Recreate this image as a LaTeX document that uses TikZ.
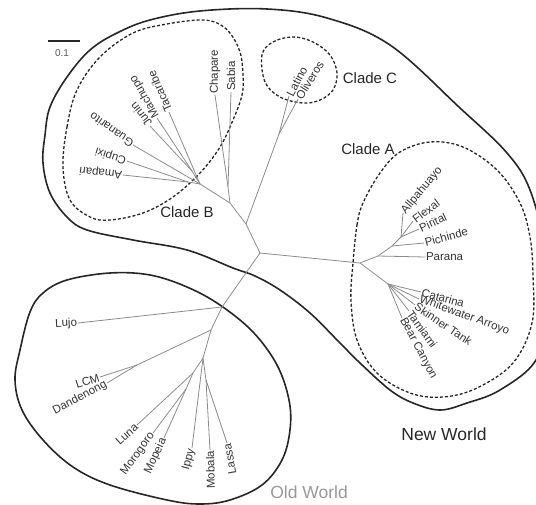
\documentclass[tikz,border=0pt]{standalone}
\usepackage{fontspec}
\setmainfont{Liberation Sans}

\begin{document}
\begin{tikzpicture}[x=1pt,y=-1pt,
	branch/.style={draw=black!45,line width=0.8pt},
	outline/.style={draw=black!85,line width=1.6pt},
	cladeline/.style={draw=black!85,line width=1.3pt,dash pattern=on 3pt off 2pt},
	leaf/.style={text=black!80,font=\fontsize{11.5}{12}\selectfont,inner sep=0.8pt},
	clade/.style={text=black!85,font=\fontsize{15}{18}\selectfont,inner sep=0pt},
	world/.style={font=\fontsize{17.5}{20}\selectfont,inner sep=0pt}]
	\useasboundingbox (0,0) rectangle (536,505);
	\clip (0,0) rectangle (536,505);

	% outlines
	\draw[outline] plot[smooth cycle,tension=0.6] coordinates {(43,163) (45,135) (50,107) (67,77) (90,50) (117,33) (150,20) (200,11) (267,9) (327,18) (390,45) (460,108) (507,153) (530,190) (545,250) (548,310) (536,360) (500,390) (467,403) (440,410) (413,403) (390,390) (360,363) (340,343) (310,313) (280,290) (255,276) (233,268) (187,250) (133,240) (87,230) (67,217) (50,193)};
	\draw[outline] plot[smooth cycle,tension=0.6] coordinates {(15,380) (20,350) (30,312) (43,293) (67,280) (110,273) (150,275) (187,287) (220,305) (253,332) (277,365) (289,400) (290,430) (282,460) (262,485) (230,500) (200,504) (167,500) (110,485) (73,467) (43,440) (22,410)};
	\draw[cladeline] plot[smooth cycle,tension=0.6] coordinates {(63,167) (67,127) (77,90) (100,57) (133,33) (167,24) (200,20) (217,23) (230,33) (240,52) (243,75) (242,95) (233,120) (220,147) (200,173) (173,197) (143,213) (110,220) (90,217) (70,200)};
	\draw[cladeline] plot[smooth cycle,tension=0.6] coordinates {(262,55) (273,42) (293,37) (313,42) (330,55) (337,73) (333,90) (320,100) (303,103) (280,97) (265,82)};
	\draw[cladeline] plot[smooth cycle,tension=0.6] coordinates {(353,263) (357,225) (363,203) (380,173) (400,152) (430,142) (463,147) (497,170) (520,203) (530,237) (533,275) (532,323) (513,363) (477,388) (443,397) (410,393) (377,373) (357,340) (351,300)};

	% inner nodes
	\coordinate (c0) at (260,253);
	\coordinate (a0) at (360,263);
	\coordinate (a1) at (378,256);
	\coordinate (a2) at (392,246);
	\coordinate (a3) at (401,237);
	\coordinate (a4) at (388,284);
	\coordinate (n1) at (246,224);
	\coordinate (n2) at (230,203);
	\coordinate (cc) at (279,134);
	\coordinate (cs) at (228,187);
	\coordinate (b0) at (200,184);
	\coordinate (b1) at (188,182);
	\coordinate (b2) at (192,171);
	\coordinate (o1) at (222,307);
	\coordinate (o2) at (211,330);
	\coordinate (o3) at (203,358);
	\coordinate (o4) at (193,373);
	\coordinate (o5) at (186,389);
	\coordinate (o6) at (206,380);
	\coordinate (o7) at (137,365);

	% tips
	\coordinate (t-allp) at (403,213);
	\coordinate (t-flex) at (413,221);
	\coordinate (t-pir) at (419,229);
	\coordinate (t-pich) at (424,243);
	\coordinate (t-par) at (425,257);
	\coordinate (t-cat) at (421,292);
	\coordinate (t-whi) at (419,299);
	\coordinate (t-ski) at (415,305);
	\coordinate (t-tam) at (409,311);
	\coordinate (t-bear) at (402,318);
	\coordinate (t-lat) at (289,96);
	\coordinate (t-oli) at (298,99);
	\coordinate (t-cha) at (215,95);
	\coordinate (t-sab) at (231,92);
	\coordinate (t-tac) at (169,112);
	\coordinate (t-mac) at (157,118);
	\coordinate (t-jun) at (150,126);
	\coordinate (t-gua) at (133,145);
	\coordinate (t-cup) at (127,161);
	\coordinate (t-ama) at (123,175);
	\coordinate (t-luj) at (78,323);
	\coordinate (t-lcm) at (100,377);
	\coordinate (t-dan) at (107,383);
	\coordinate (t-lun) at (137,425);
	\coordinate (t-mor) at (153,433);
	\coordinate (t-mop) at (164,438);
	\coordinate (t-ipp) at (192,448);
	\coordinate (t-mob) at (210,450);
	\coordinate (t-las) at (227,443);

	% branches
	\draw[branch] (c0) -- (a0) -- (a1) -- (t-par);
	\draw[branch] (a1) -- (a2) -- (t-pich);
	\draw[branch] (a2) -- (a3) -- (t-pir);
	\draw[branch] (a3) -- (t-flex);
	\draw[branch] (a3) -- (t-allp);
	\draw[branch] (a0) -- (a4);
	\foreach \t in {t-cat,t-whi,t-ski,t-tam,t-bear}
		\draw[branch] (a4) -- (\t);
	\draw[branch] (c0) -- (n1) -- (cc) -- (t-lat);
	\draw[branch] (cc) -- (t-oli);
	\draw[branch] (n1) -- (n2) -- (cs) -- (t-cha);
	\draw[branch] (cs) -- (t-sab);
	\draw[branch] (n2) -- (b0) -- (t-tac);
	\draw[branch] (b0) -- (t-gua);
	\draw[branch] (b0) -- (b2) -- (t-jun);
	\draw[branch] (b2) -- (t-mac);
	\draw[branch] (b0) -- (b1) -- (t-cup);
	\draw[branch] (b1) -- (t-ama);
	\draw[branch] (c0) -- (o1) -- (t-luj);
	\draw[branch] (o1) -- (o2) -- (o7) -- (t-lcm);
	\draw[branch] (o7) -- (t-dan);
	\draw[branch] (o2) -- (o3) -- (t-ipp);
	\draw[branch] (o3) -- (o4) -- (t-lun);
	\draw[branch] (o4) -- (o5) -- (t-mor);
	\draw[branch] (o5) -- (t-mop);
	\draw[branch] (o3) -- (o6) -- (t-mob);
	\draw[branch] (o6) -- (t-las);

	% leaf labels
	\node[leaf,anchor=west,rotate=50] (allpahuayo) at (t-allp) {Allpahuayo};
	\node[leaf,anchor=west,rotate=37] (flexal) at (t-flex) {Flexal};
	\node[leaf,anchor=west,rotate=25] (pirital) at (t-pir) {Pirital};
	\node[leaf,anchor=west,rotate=15] (pichinde) at (t-pich) {Pichinde};
	\node[leaf,anchor=west] (parana) at (t-par) {Parana};
	\node[leaf,anchor=west,rotate=-15] (catarina) at (t-cat) {Catarina};
	\node[leaf,anchor=west,rotate=-20] (whitewater) at (t-whi) {Whitewater Arroyo};
	\node[leaf,anchor=west,rotate=-34] (skinner) at (t-ski) {Skinner Tank};
	\node[leaf,anchor=west,rotate=-54] (tamiami) at (t-tam) {Tamiami};
	\node[leaf,anchor=west,rotate=-62] (bearcanyon) at (t-bear) {Bear Canyon};
	\node[leaf,anchor=west,rotate=62] (latino) at (t-lat) {Latino};
	\node[leaf,anchor=west,rotate=58] (oliveros) at (t-oli) {Oliveros};
	\node[leaf,anchor=west,rotate=90] (chapare) at (t-cha) {Chapare};
	\node[leaf,anchor=west,rotate=90] (sabia) at (t-sab) {Sabia};
	\node[leaf,anchor=west,rotate=114] (tacaribe) at (t-tac) {Tacaribe};
	\node[leaf,anchor=west,rotate=120] (machupo) at (t-mac) {Machupo};
	\node[leaf,anchor=west,rotate=128] (junin) at (t-jun) {Junin};
	\node[leaf,anchor=west,rotate=145] (guanarito) at (t-gua) {Guanarito};
	\node[leaf,anchor=west,rotate=162] (cupixi) at (t-cup) {Cupixi};
	\node[leaf,anchor=west,rotate=173] (amapari) at (t-ama) {Amapari};
	\node[leaf,anchor=east,rotate=3] (lujo) at (t-luj) {Lujo};
	\node[leaf,anchor=east,rotate=18] (lcm) at (t-lcm) {LCM};
	\node[leaf,anchor=east,rotate=28] (dandenong) at (t-dan) {Dandenong};
	\node[leaf,anchor=east,rotate=42] (luna) at (t-lun) {Luna};
	\node[leaf,anchor=east,rotate=54] (morogoro) at (t-mor) {Morogoro};
	\node[leaf,anchor=east,rotate=65] (mopeia) at (t-mop) {Mopeia};
	\node[leaf,anchor=east,rotate=75] (ippy) at (t-ipp) {Ippy};
	\node[leaf,anchor=east,rotate=91] (mobala) at (t-mob) {Mobala};
	\node[leaf,anchor=east,rotate=100] (lassa) at (t-las) {Lassa};

	% clade labels
	\node[clade] (cladeA) at (368,149) {Clade A};
	\node[clade] (cladeB) at (187,212) {Clade B};
	\node[clade] (cladeC) at (370,78) {Clade C};
	\node[world,text=black!85] (newworld) at (444,434) {New World};
	\node[world,text=black!40] (oldworld) at (309,492) {Old World};

	% scale bar
	\coordinate (s0) at (48,41);
	\coordinate (s1) at (80,41);
	\draw[black!85,line width=1.4pt] (s0) -- (s1);
	\node[text=black!65,font=\fontsize{10}{12}\selectfont] (scale) at (62,53) {0.1};
\end{tikzpicture}
\end{document}
